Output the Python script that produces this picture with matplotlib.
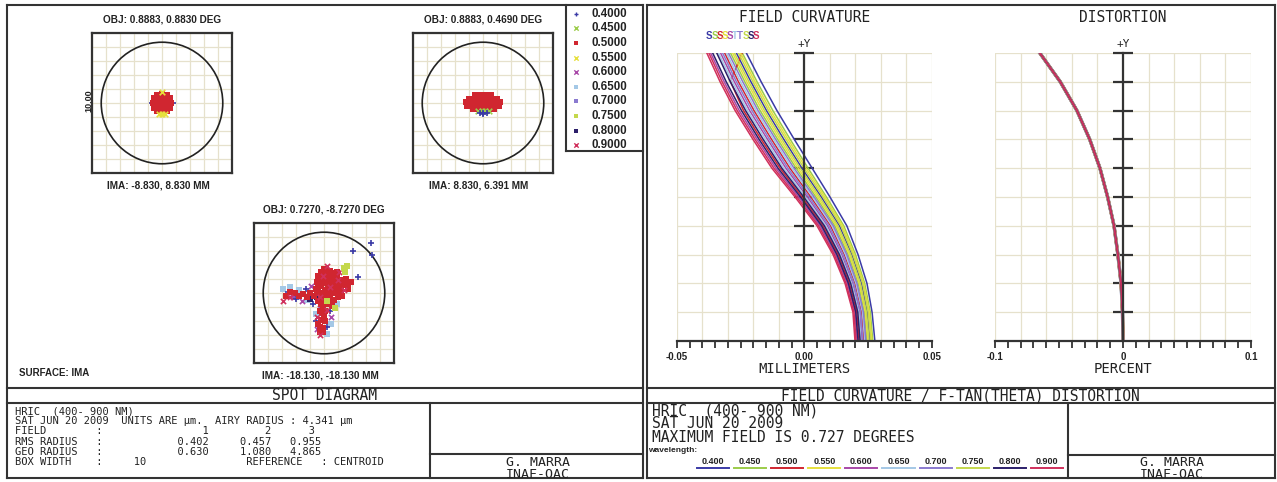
# Zemax-style report page: spot diagram + field curvature / distortion
import matplotlib
matplotlib.use("Agg")
import matplotlib.pyplot as plt
from matplotlib.lines import Line2D
from matplotlib.patches import Circle
import numpy as np

W, H = 1277, 482
EDGE = '#333333'
GRID = '#e6e1cc'
MONO = 'DejaVu Sans Mono'
ARIAL = 'Liberation Sans'

# wavelengths (micron), colours and spot markers
wavelengths = [0.400, 0.450, 0.500, 0.550, 0.600, 0.650, 0.700, 0.750, 0.800, 0.900]
wave_colors = ['#3a3aa6', '#9ccc4a', '#d02630', '#e6e03c', '#a848a8',
               '#a4c8e6', '#8a7ad0', '#c4d84c', '#2c1f6a', '#d0305c']
spot_markers = ['+', 'x', 's', 'x', 'x', 's', 's', 's', 's', 'x']

# spot diagram headers / numbers
spot_obj = ['OBJ: 0.8883, 0.8830 DEG', 'OBJ: 0.8883, 0.4690 DEG', 'OBJ: 0.7270, -8.7270 DEG']
spot_ima = ['IMA: -8.830, 8.830 MM', 'IMA: 8.830, 6.391 MM', 'IMA: -18.130, -18.130 MM']
rms_radius = [0.402, 0.457, 0.955]
geo_radius = [0.630, 1.080, 4.865]
airy_radius = 4.341
box_width = 10

# spot 1 (microns)
s1_red_x = [0, 0.35, 0.18, -0.18, -0.35, -0.18, 0.18, 0.65, 0.56, 0.33, 0, -0.33, -0.56, -0.65, -0.56, -0.33, 0, 0.33, 0.56]
s1_red_y = [0, 0, 0.30, 0.30, 0, -0.30, -0.30, 0, 0.33, 0.56, 0.65, 0.56, 0.33, 0, -0.33, -0.56, -0.65, -0.56, -0.33]
s1_blue_x = [0.75, 0.53, -0.53, -0.75, -0.53, 0.53]
s1_blue_y = [0, 0.53, 0.53, 0, -0.53, -0.53]
s1_yel_x = [0, -0.18, 0.18, 0]
s1_yel_y = [-0.82, -0.75, -0.75, 0.8]

# spot 2 (microns)
s2_red_x = [-0.6, -0.3, 0, 0.3, 0.6,
            -1.0, -0.7, -0.35, 0, 0.35, 0.7, 1.0,
            -1.2, -0.9, -0.6, -0.3, 0, 0.3, 0.6, 0.9, 1.2,
            -1.15, -0.85, -0.55, -0.25, 0.05, 0.35, 0.65, 0.95, 1.15,
            -0.7, -0.4, -0.1, 0.2, 0.5, 0.8]
s2_red_y = [0.55] * 5 + [0.3] * 7 + [0.05] * 9 + [-0.2] * 9 + [-0.4] * 6
s2_yel_x = [-0.35, -0.1, 0.15, 0.4]
s2_yel_y = [-0.55, -0.58, -0.58, -0.55]
s2_blue_x = [-0.25, 0, 0.25, 0]
s2_blue_y = [-0.7, -0.72, -0.7, -0.82]

# spot 3 (microns)
s3_red_x = [0.0, 0.3, -0.2, 0.6, 0.2, -0.4, 0.9, 0.5, 0.0, 1.2, -0.5, 0.8, 0.3, -0.2, 1.5, 1.1, 0.6, -0.6, 0.1, 1.7, 0.9,
            -0.3, 0.4, 1.3, -0.7, 0.0, 0.7, -0.4, 0.3, -0.1, -0.3, 0.0, -0.2, -0.4, -0.1, -0.3, -1.0, -1.5, -2.1, -2.7, 1.6, 1.9,
            0.45, 0.75, 0.15, -0.35, 1.0, 0.45, -0.05, 1.3, 0.8, 0.25, -0.4, 1.2, 0.6, 0.15, -0.5, 1.0, 0.45, -0.2,
            0.1, -0.25, 0.55, 0.1, -0.15, 0.05, -0.3, -0.05, -1.2, -1.8, -2.4, 1.7, 1.45, 0.95, -0.15]
s3_red_y = [1.7, 1.6, 1.5, 1.4, 1.3, 1.2, 1.2, 1.0, 1.0, 0.9, 0.8, 0.7, 0.6, 0.5, 0.6, 0.4, 0.3, 0.3, 0.2, 0.3, 0.0,
            0.0, -0.1, -0.2, -0.2, -0.4, -0.5, -0.6, -0.8, -1.0, -1.3, -1.6, -1.9, -2.2, -2.5, -2.8, 0.0, -0.1, 0.0, -0.2, 1.0, 0.8,
            1.55, 1.1, 0.85, 0.95, 0.65, 0.75, 0.7, 0.55, 0.25, 0.35, 0.45, 0.15, 0.0, -0.1, 0.05, -0.3, -0.35, -0.2,
            -0.65, -0.8, -0.9, -1.3, -1.45, -2.0, -2.4, -2.8, -0.25, -0.2, 0.05, 0.7, 0.95, 1.5, 1.25]
s3_crim_x = [0.2, -0.1, 1.0, 0.4, 1.4, -0.3, 0.2, -0.5, -2.4, -2.9, -0.3, 1.1]
s3_crim_y = [1.9, 1.2, 0.9, 0.4, 0.2, -0.3, -1.2, -1.7, -0.3, -0.6, -3.0, 1.5]
s3_blue_x = [3.35, 2.05, 3.42, 2.41, -2.6, -2.0, -0.6, 0.2, -0.8, 0.4, 1.0, -1.3]
s3_blue_y = [3.56, 2.99, 2.70, 1.12, 0.1, -0.4, -2.0, -2.4, -0.8, -1.3, -0.3, 0.3]
s3_lblue_x = [-2.9, -2.4, -1.8, -1.2, 0.5, 0.2, -0.6, 0.9]
s3_lblue_y = [0.3, 0.4, 0.2, -0.5, -2.2, -2.9, -1.5, -0.8]
s3_purp_x = [-2.2, -1.6, -0.3, 0.5, -0.5, 0.6, -0.9]
s3_purp_y = [-0.3, -0.6, -1.1, -1.7, -2.6, 0.5, 0.5]
s3_navy_x = [0.0, -0.5, 0.3, -1.0]
s3_navy_y = [-0.2, -0.3, 0.9, -0.4]
s3_yel_x = [1.4, 1.62, 1.5, 0.2, 0.8]
s3_yel_y = [1.76, 1.91, 1.5, -0.6, -1.1]

# field curvature (mm) at relative field 0.0 .. 1.0
rel_field = [0.0, 0.1, 0.2, 0.3, 0.4, 0.5, 0.6, 0.7, 0.8, 0.9, 1.0]
fc_tan = [
    [0.0276, 0.0265, 0.0245, 0.0210, 0.0166, 0.0100, 0.0030, -0.0040, -0.0108, -0.0170, -0.0228],
    [0.0268, 0.0258, 0.0236, 0.0200, 0.0154, 0.0086, 0.0014, -0.0056, -0.0124, -0.0186, -0.0244],
    [0.0214, 0.0205, 0.0176, 0.0132, 0.0072, -0.0010, -0.0096, -0.0170, -0.0239, -0.0290, -0.0245],
    [0.0264, 0.0254, 0.0232, 0.0195, 0.0149, 0.0080, 0.0006, -0.0064, -0.0133, -0.0194, -0.0251],
    [0.0206, 0.0198, 0.0168, 0.0122, 0.0061, -0.0023, -0.0112, -0.0186, -0.0256, -0.0315, -0.0368],
    [0.0237, 0.0228, 0.0202, 0.0161, 0.0108, 0.0032, -0.0049, -0.0121, -0.0190, -0.0251, -0.0306],
    [0.0241, 0.0231, 0.0206, 0.0166, 0.0113, 0.0038, -0.0041, -0.0113, -0.0182, -0.0242, -0.0298],
    [0.0260, 0.0250, 0.0228, 0.0190, 0.0143, 0.0073, -0.0002, -0.0072, -0.0141, -0.0202, -0.0259],
    [0.0218, 0.0209, 0.0181, 0.0137, 0.0078, -0.0003, -0.0089, -0.0162, -0.0231, -0.0291, -0.0344],
    [0.0198, 0.0190, 0.0159, 0.0112, 0.0049, -0.0037, -0.0128, -0.0202, -0.0272, -0.0331, -0.0383],
]
fc_sag = [
    [0.0257, 0.0246, 0.0224, 0.0186, 0.0137, 0.0066, -0.0010, -0.0081, -0.0149, -0.0210, -0.0267],
    [0.0245, 0.0235, 0.0211, 0.0171, 0.0119, 0.0045, -0.0033, -0.0105, -0.0174, -0.0234, -0.0290],
    [0.0233, 0.0224, 0.0198, 0.0156, 0.0102, 0.0025, -0.0057, -0.0129, -0.0198, -0.0259, -0.0313],
    [0.0249, 0.0239, 0.0215, 0.0176, 0.0125, 0.0052, -0.0025, -0.0097, -0.0165, -0.0226, -0.0282],
    [0.0225, 0.0216, 0.0189, 0.0146, 0.0090, 0.0011, -0.0073, -0.0145, -0.0215, -0.0275, -0.0329],
    [0.0221, 0.0213, 0.0185, 0.0141, 0.0084, 0.0004, -0.0081, -0.0153, -0.0223, -0.0283, -0.0337],
    [0.0229, 0.0220, 0.0193, 0.0151, 0.0096, 0.0018, -0.0065, -0.0137, -0.0206, -0.0267, -0.0321],
    [0.0253, 0.0243, 0.0219, 0.0181, 0.0131, 0.0059, -0.0017, -0.0089, -0.0157, -0.0218, -0.0275],
    [0.0210, 0.0201, 0.0172, 0.0127, 0.0067, -0.0016, -0.0104, -0.0178, -0.0247, -0.0307, -0.0360],
    [0.0202, 0.0194, 0.0163, 0.0117, 0.0055, -0.0030, -0.0120, -0.0194, -0.0264, -0.0323, -0.0375],
]
# distortion (percent)
distortion = [0.0, -0.0004, -0.0015, -0.0040, -0.0070, -0.0120, -0.0180, -0.0260, -0.0360, -0.0490, -0.0650]

fig = plt.figure(figsize=(W / 100, H / 100), dpi=100)
fig.patch.set_facecolor('white')


def px_axes(x0, y0, x1, y1):
    return fig.add_axes([x0 / W, 1 - y1 / H, (x1 - x0) / W, (y1 - y0) / H])


def hline(y, x0, x1, lw=1.5):
    fig.add_artist(Line2D([x0 / W, x1 / W], [1 - y / H, 1 - y / H], color=EDGE, lw=lw))


def vline(x, y0, y1, lw=1.5):
    fig.add_artist(Line2D([x / W, x / W], [1 - y0 / H, 1 - y1 / H], color=EDGE, lw=lw))


def text(x, y, s, size=7, font=MONO, color='#222222', **kw):
    kw.setdefault('ha', 'center')
    kw.setdefault('va', 'center')
    fig.text(x / W, 1 - y / H, s, fontsize=size, family=font, color=color, **kw)


# ---------------- frames ----------------
for (l, r) in [(7, 643), (647, 1275)]:
    hline(5, l, r)
    hline(478, l, r)
    vline(l, 5, 478)
    vline(r, 5, 478)
    hline(388, l, r)
    hline(403, l, r)
vline(430, 403, 478)
hline(454, 430, 643)
vline(1068, 403, 478)
hline(455, 1068, 1275)
vline(566, 5, 151)
hline(151, 566, 643)

# ---------------- spot diagrams ----------------
spot_boxes = [(92, 33, 232, 173), (413, 33, 553, 173), (254, 223, 394, 363)]
spot_groups = [
    [(0, s1_blue_x, s1_blue_y), (2, s1_red_x, s1_red_y), (3, s1_yel_x, s1_yel_y)],
    [(2, s2_red_x, s2_red_y), (1, s2_yel_x, s2_yel_y), (0, s2_blue_x, s2_blue_y)],
    [(5, s3_lblue_x, s3_lblue_y), (4, s3_purp_x, s3_purp_y), (0, s3_blue_x, s3_blue_y),
     (8, s3_navy_x, s3_navy_y), (2, s3_red_x, s3_red_y), (9, s3_crim_x, s3_crim_y),
     (7, s3_yel_x, s3_yel_y)],
]
for k, (x0, y0, x1, y1) in enumerate(spot_boxes):
    ax = px_axes(x0, y0, x1, y1)
    half = box_width / 2
    ax.set_xlim(-half, half)
    ax.set_ylim(-half, half)
    ax.set_xticks(np.arange(-half, half + 0.1, 1))
    ax.set_yticks(np.arange(-half, half + 0.1, 1))
    ax.tick_params(length=0, labelbottom=False, labelleft=False)
    ax.grid(True, color=GRID, lw=0.9)
    ax.set_axisbelow(True)
    for sp in ax.spines.values():
        sp.set_linewidth(1.6)
        sp.set_color(EDGE)
    ax.add_patch(Circle((0, 0), airy_radius, fill=False, lw=1.2, ec='#222222'))
    big = 16 if k < 2 else 14
    for wi, xs, ys in spot_groups[k]:
        m = spot_markers[wi]
        if m in ('+', 'x'):
            ax.scatter(xs, ys, s=big, marker=m, color=wave_colors[wi], linewidths=1.2, zorder=3)
        else:
            ax.scatter(xs, ys, s=big, marker=m, color=wave_colors[wi], linewidths=0, zorder=3)
    cx = (x0 + x1) / 2
    text(cx, y0 - 13, spot_obj[k], 7.2, ARIAL, fontweight='bold')
    text(cx - 4, y1 + 12, spot_ima[k], 7.2, ARIAL, fontweight='bold')

text(89, 101, '%.2f' % box_width, 6.5, ARIAL, fontweight='bold', rotation=90)
text(19, 373, 'SURFACE: IMA', 7, ARIAL, fontweight='bold', ha='left')

# spot legend
lax = px_axes(566, 5, 643, 151)
lax.set_xlim(0, 1)
lax.set_ylim(len(wavelengths), 0)
lax.axis('off')
for i, wl in enumerate(wavelengths):
    lw = 1.0 if spot_markers[i] in ('+', 'x') else 0
    lax.scatter([0.13], [i + 0.6], s=10, marker=spot_markers[i], color=wave_colors[i], linewidths=lw)
    lax.text(0.33, i + 0.6, '%.4f' % wl, fontsize=8.3, family=ARIAL, fontweight='bold',
             va='center', ha='left', color='#222222')

# spot text block
text(325, 396, 'SPOT DIAGRAM', 10.5)
spot_lines = [
    'HRIC  (400- 900 NM)',
    'SAT JUN 20 2009  UNITS ARE \u00b5m.  AIRY RADIUS : %.3f \u00b5m' % airy_radius,
    '%-13s:%17s%10s%7s' % ('FIELD', '1', '2', '3'),
    '%-13s:%17.3f%10.3f%8.3f' % ('RMS RADIUS', rms_radius[0], rms_radius[1], rms_radius[2]),
    '%-13s:%17.3f%10.3f%8.3f' % ('GEO RADIUS', geo_radius[0], geo_radius[1], geo_radius[2]),
    '%-13s:%7d%16s' % ('BOX WIDTH', box_width, '') + 'REFERENCE   : CENTROID',
]
for i, line in enumerate(spot_lines):
    text(15, 411 + 10.2 * i, line, 7.5, ha='left')
text(538, 462, 'G. MARRA', 9.5)
text(538, 474.5, 'INAF-OAC', 9.5)


# ---------------- field curvature / distortion ----------------
def style_plot(ax, lim, major, labels):
    ax.set_xlim(-lim, lim)
    ax.set_ylim(0, 1)
    ax.spines['top'].set_visible(False)
    ax.spines['right'].set_visible(False)
    ax.spines['left'].set_position(('data', 0))
    for sp in ('left', 'bottom'):
        ax.spines[sp].set_linewidth(1.6)
        ax.spines[sp].set_color(EDGE)
    ax.set_xticks(np.linspace(-lim, lim, major))
    ax.set_xticklabels(labels)
    ax.set_xticks(np.linspace(-lim, lim, 2 * major - 1), minor=True)
    ax.set_yticks(rel_field[1:])
    ax.tick_params(axis='x', which='both', direction='out', length=5, width=1.3,
                   color=EDGE, labelsize=7, pad=3, labelcolor='#222222')
    ax.tick_params(axis='y', direction='inout', length=14, width=1.6, color=EDGE, labelleft=False)
    for lb in ax.get_xticklabels():
        lb.set_fontweight('bold')
        lb.set_family(ARIAL)
    ax.grid(True, color=GRID, lw=0.9)
    ax.set_axisbelow(True)


fc_labels = ['-0.05'] + [''] * 4 + ['0.00'] + [''] * 4 + ['0.05']
ax_fc = px_axes(677, 53, 932, 341)
style_plot(ax_fc, 0.05, 11, fc_labels)
for i in range(len(wavelengths)):
    ax_fc.plot(fc_sag[i], rel_field, color=wave_colors[i], lw=1.1)
    ax_fc.plot(fc_tan[i], rel_field, color=wave_colors[i], lw=1.1)

dist_labels = ['-0.1'] + [''] * 4 + ['0'] + [''] * 4 + ['0.1']
ax_d = px_axes(995, 53, 1251, 341)
style_plot(ax_d, 0.1, 11, dist_labels)
for i in range(len(wavelengths)):
    ax_d.plot(distortion, rel_field, color=wave_colors[i], lw=2.4 - 0.12 * i)

text(805, 18, 'FIELD CURVATURE', 10.5)
text(1123, 18, 'DISTORTION', 10.5)
text(804, 44, '+Y', 8)
text(1123, 44, '+Y', 8)
text(804, 369, 'MILLIMETERS', 10)
text(1123, 369, 'PERCENT', 10)
st_letters = ['S', 'S', 'S', 'S', 'S', 'T', 'T', 'S', 'S', 'S']
for i, ch in enumerate(st_letters):
    text(706 + 5.2 * i, 36, ch, 7, ARIAL, color=wave_colors[i], fontweight='bold', ha='left')

# field curvature text block
text(960, 396, 'FIELD CURVATURE / F-TAN(THETA) DISTORTION', 10.5)
fc_lines = ['HRIC  (400- 900 NM)', 'SAT JUN 20 2009', 'MAXIMUM FIELD IS 0.727 DEGREES']
for i, line in enumerate(fc_lines):
    text(652, 411 + 13 * i, line, 10.5, ha='left')
text(648, 451, 'wavelength:', 6, ARIAL, fontweight='bold', ha='left')
for i, wl in enumerate(wavelengths):
    cx = 713 + 37.1 * i
    text(cx, 461, '%.3f' % wl, 6.5, ARIAL, fontweight='bold')
    fig.add_artist(Line2D([(cx - 16) / W, (cx + 16) / W], [1 - 468 / H] * 2, color=wave_colors[i], lw=1.4))
text(1172, 462, 'G. MARRA', 9.5)
text(1172, 474.5, 'INAF-OAC', 9.5)

plt.savefig('out.png', dpi=100)
